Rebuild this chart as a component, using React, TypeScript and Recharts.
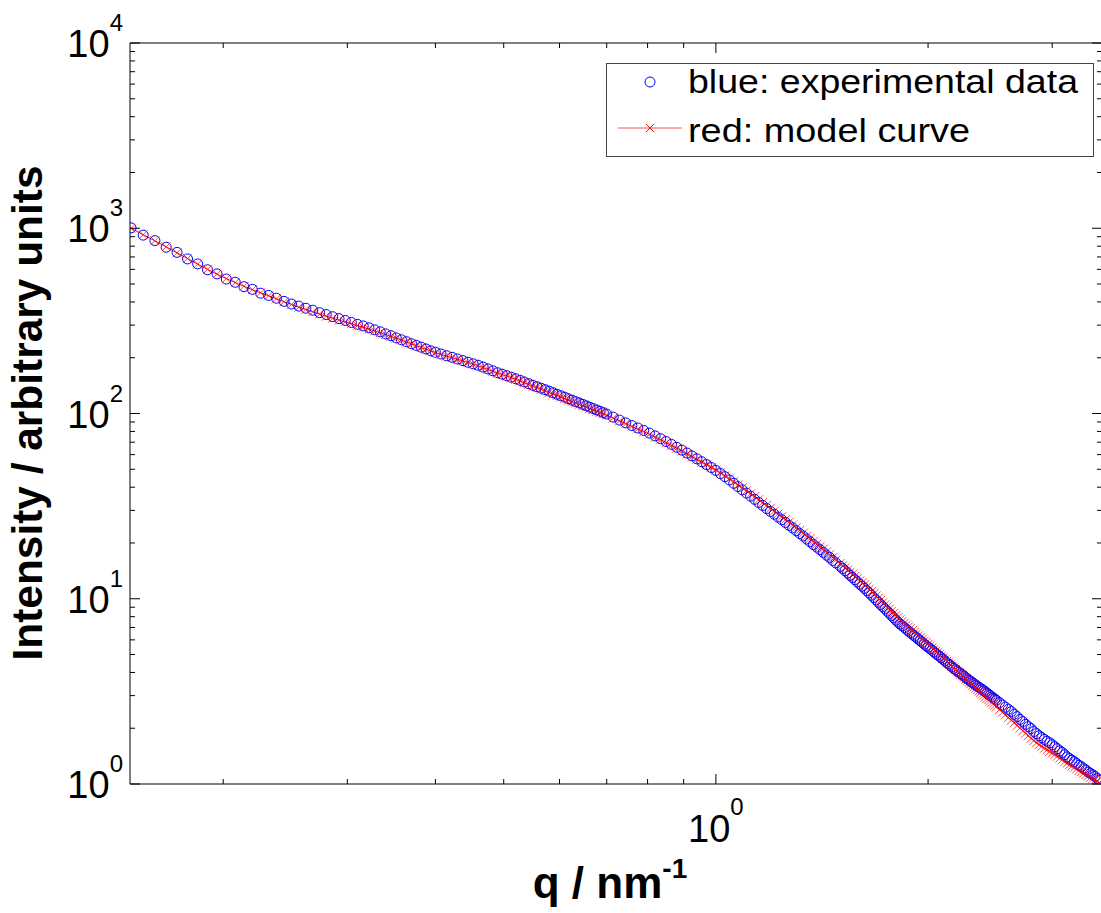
import { ComposedChart, Legend, Line, ReferenceLine, XAxis, YAxis } from "recharts";

// scattering vector q (nm^-1)
const q = [
  0.148, 0.154, 0.16, 0.166, 0.172, 0.178, 0.184, 0.19, 0.196, 0.202, 0.208, 0.214, 0.22, 0.226, 0.232,
  0.238, 0.244, 0.25, 0.256, 0.262, 0.268, 0.274, 0.28, 0.286, 0.292, 0.298, 0.304, 0.31, 0.316, 0.322,
  0.328, 0.334, 0.34, 0.346, 0.352, 0.358, 0.364, 0.37, 0.376, 0.382, 0.388, 0.394, 0.4,
  0.4075, 0.415, 0.4225, 0.43, 0.4375, 0.445, 0.4525, 0.46, 0.4675, 0.475,
  0.4825, 0.49, 0.4975, 0.505, 0.5125, 0.52, 0.5275, 0.535, 0.5425, 0.55,
  0.5575, 0.565, 0.5725, 0.58, 0.5875, 0.595, 0.6025, 0.61, 0.6175, 0.625,
  0.6325, 0.64, 0.6475, 0.655, 0.6625, 0.67, 0.6775, 0.685, 0.6925, 0.7,
  0.715, 0.73, 0.745, 0.76, 0.775, 0.79, 0.805, 0.82, 0.835, 0.85,
  0.865, 0.88, 0.895, 0.91, 0.925, 0.94, 0.955, 0.97, 0.985, 1.0,
  1.015, 1.03, 1.045, 1.06, 1.075, 1.09, 1.105, 1.12, 1.135, 1.15,
  1.165, 1.18, 1.195, 1.21, 1.225, 1.24, 1.255, 1.27, 1.285, 1.3,
  1.315, 1.33, 1.345, 1.36, 1.375, 1.39, 1.405, 1.42, 1.435, 1.45, 1.465, 1.48,
  1.5, 1.5125, 1.525, 1.5375, 1.55, 1.5625, 1.575, 1.5875,
  1.6, 1.6125, 1.625, 1.6375, 1.65, 1.6625, 1.675, 1.6875,
  1.7, 1.7125, 1.725, 1.7375, 1.75, 1.7625, 1.775, 1.7875,
  1.8, 1.8125, 1.825, 1.8375, 1.85, 1.8625, 1.875, 1.8875,
  1.9, 1.9125, 1.925, 1.9375, 1.95, 1.9625, 1.975, 1.9875,
  2.0, 2.0125, 2.025, 2.0375, 2.05, 2.0625, 2.075, 2.0875,
  2.1, 2.1125, 2.125, 2.1375, 2.15, 2.1625, 2.175, 2.1875,
  2.2, 2.2125, 2.225, 2.2375, 2.25, 2.2625, 2.275, 2.2875,
  2.3, 2.3125, 2.325, 2.3375, 2.35, 2.3625, 2.375, 2.3875,
  2.4, 2.4125, 2.425, 2.4375, 2.45, 2.4625, 2.475, 2.4875,
  2.5,
  2.525, 2.55, 2.575, 2.6, 2.625, 2.65, 2.675, 2.7, 2.725, 2.75, 2.775, 2.8,
  2.825, 2.85, 2.875, 2.9, 2.925, 2.95, 2.975, 3.0, 3.025, 3.05, 3.075, 3.1,
  3.125, 3.15, 3.175, 3.2, 3.225, 3.25, 3.275, 3.3, 3.325, 3.35, 3.375, 3.4,
  3.425, 3.45, 3.475, 3.5
];

// blue: experimental data
const experimental = [
  1005, 918, 858, 790, 741, 683, 642, 597, 567, 532, 511, 484, 468, 446, 434,
  419, 403, 390, 380, 370, 361, 350, 342, 333, 325, 318, 310, 303, 297, 290,
  283, 276, 269, 263, 256, 250, 244, 238, 233, 228, 223, 218, 214,
  209.5, 205, 201, 197, 193, 189, 185.5, 182, 178, 174,
  170, 166, 163, 160, 157, 154, 151, 148, 145, 142,
  139.5, 137, 134.5, 132, 129.5, 127, 124.8, 122.5, 120.2, 118,
  116, 114, 112, 110, 108.1, 106.3, 104.5, 102.8, 101, 99.3,
  95.6, 92.1, 89.0, 86.1, 83.5, 81.0, 78.3, 75.7, 73.1, 70.6,
  68.1, 65.7, 63.4, 61.2, 59.0, 56.9, 54.9, 53.0, 51.1, 49.3,
  47.4, 45.6, 43.8, 42.0, 40.3, 38.7, 37.2, 35.8, 34.4, 33.1,
  31.9, 30.7, 29.6, 28.6, 27.6, 26.7, 25.8, 24.9, 24.1, 23.3,
  22.5, 21.8, 21.0, 20.3, 19.6, 19.0, 18.4, 17.8, 17.2, 16.7, 16.1, 15.6,
  14.98, 14.57, 14.17, 13.78, 13.39, 13.03, 12.67, 12.33,
  11.99, 11.68, 11.38, 11.06, 10.75, 10.45, 10.15, 9.86,
  9.58, 9.31, 9.05, 8.81, 8.57, 8.34, 8.11, 7.89,
  7.67, 7.48, 7.3, 7.15, 7.0, 6.85, 6.7, 6.56,
  6.43, 6.3, 6.18, 6.05, 5.93, 5.81, 5.69, 5.58,
  5.48, 5.38, 5.28, 5.17, 5.07, 4.98, 4.89, 4.8,
  4.71, 4.62, 4.53, 4.45, 4.37, 4.29, 4.21, 4.14,
  4.07, 4.0, 3.94, 3.88, 3.82, 3.75, 3.69, 3.63,
  3.58, 3.52, 3.47, 3.42, 3.37, 3.32, 3.28, 3.23,
  3.19, 3.14, 3.09, 3.04, 3.0, 2.95, 2.91, 2.87,
  2.83,
  2.75, 2.67, 2.6, 2.53, 2.46, 2.38, 2.31, 2.23, 2.17, 2.1, 2.04, 1.99,
  1.92, 1.87, 1.82, 1.78, 1.74, 1.7, 1.67, 1.63, 1.59, 1.55, 1.51, 1.48,
  1.44, 1.4, 1.37, 1.345, 1.32, 1.29, 1.26, 1.24, 1.21, 1.19, 1.16, 1.14,
  1.12, 1.1, 1.07, 1.05
];

// red: model curve
const model = [
  1000, 923, 855, 794, 737, 686, 640, 600, 565, 535, 509, 486, 466, 448, 432,
  416, 401, 388, 375, 364, 354, 344, 335, 327, 319, 312, 305, 298, 292, 286,
  279, 273, 267, 261, 255, 249, 243, 238, 232, 227, 222, 218, 213,
  208.5, 204, 200, 196, 192.2, 188.5, 184.7, 181, 177, 173,
  169, 165, 162, 159, 156, 153, 149.7, 146.5, 143.5, 140.6,
  137.8, 135, 132.4, 129.9, 127.4, 125, 122.7, 120.4, 118.2, 116,
  114, 112, 110.1, 108.2, 106.4, 104.6, 102.9, 101.2, 99.5, 97.9,
  94.5, 91.2, 88.1, 85.2, 82.5, 79.8, 77.2, 74.6, 72.1, 69.6,
  67.3, 65.0, 62.8, 60.6, 58.5, 56.5, 54.7, 52.9, 51.2, 49.5,
  47.8, 46.1, 44.4, 42.8, 41.2, 39.7, 38.3, 36.9, 35.6, 34.3,
  33.1, 31.9, 30.8, 29.7, 28.7, 27.7, 26.8, 25.9, 25.0, 24.2,
  23.4, 22.6, 21.8, 21.1, 20.4, 19.7, 19.1, 18.5, 17.9, 17.3, 16.7, 16.2,
  15.5, 15.1, 14.7, 14.3, 13.9, 13.55, 13.2, 12.85,
  12.5, 12.2, 11.9, 11.58, 11.26, 10.95, 10.64, 10.35,
  10.06, 9.79, 9.53, 9.28, 9.03, 8.79, 8.56, 8.34,
  8.12, 7.91, 7.71, 7.54, 7.37, 7.2, 7.04, 6.88,
  6.73, 6.59, 6.45, 6.31, 6.17, 6.04, 5.91, 5.79,
  5.67, 5.55, 5.44, 5.32, 5.21, 5.1, 4.99, 4.89,
  4.79, 4.69, 4.59, 4.5, 4.41, 4.32, 4.23, 4.15,
  4.07, 3.99, 3.91, 3.83, 3.76, 3.68, 3.61, 3.54,
  3.48, 3.41, 3.35, 3.29, 3.23, 3.17, 3.12, 3.06,
  3.01, 2.95, 2.9, 2.85, 2.8, 2.75, 2.7, 2.65,
  2.61,
  2.52, 2.44, 2.36, 2.28, 2.21, 2.14, 2.07, 2.0, 1.94, 1.88, 1.82, 1.765,
  1.715, 1.67, 1.63, 1.595, 1.56, 1.53, 1.5, 1.47, 1.44, 1.41, 1.38, 1.35,
  1.32, 1.295, 1.27, 1.25, 1.23, 1.205, 1.185, 1.164, 1.144, 1.124, 1.105, 1.087,
  1.069, 1.051, 1.033, 1.016
];

const xTicks = [0.2, 0.3, 0.4, 0.5, 0.6, 0.7, 0.8, 0.9, 1, 2, 3];
const yTicks = [
  1, 2, 3, 4, 5, 6, 7, 8, 9,
  10, 20, 30, 40, 50, 60, 70, 80, 90,
  100, 200, 300, 400, 500, 600, 700, 800, 900,
  1000, 2000, 3000, 4000, 5000, 6000, 7000, 8000, 9000,
  10000
];

const rows = q.map((value, i) => ({ q: value, experimental: experimental[i], model: model[i] }));

const FONT = '"Liberation Sans", Arial, Helvetica, sans-serif';
const PLOT_LEFT = 130;
const PLOT_RIGHT = 1102;
const PLOT_TOP = 43;
const PLOT_BOTTOM = 784;

const exponent = (v: number) => Math.round(Math.log10(v));
const isDecade = (v: number) => Math.abs(Math.log10(v) - exponent(v)) < 1e-9;

function XTick(props: any) {
  const { x, payload } = props;
  const v = payload.value;
  const major = isDecade(v);
  const len = major ? 10 : 5;
  return (
    <g>
      <line x1={x} x2={x} y1={PLOT_BOTTOM} y2={PLOT_BOTTOM - len} stroke="#000" />
      <line x1={x} x2={x} y1={PLOT_TOP} y2={PLOT_TOP + len} stroke="#000" />
      {major && (
        <text x={x} y={PLOT_BOTTOM + 58} textAnchor="middle" fontFamily={FONT} fontSize={38} fill="#000">
          10
          <tspan dy={-27} fontSize={24}>
            {exponent(v)}
          </tspan>
        </text>
      )}
    </g>
  );
}

function YTick(props: any) {
  const { y, payload } = props;
  const v = payload.value;
  const major = isDecade(v);
  const len = major ? 10 : 5;
  return (
    <g>
      <line x1={PLOT_LEFT} x2={PLOT_LEFT + len} y1={y} y2={y} stroke="#000" />
      <line x1={PLOT_RIGHT - len} x2={PLOT_RIGHT} y1={y} y2={y} stroke="#000" />
      {major && (
        <text x={123} y={y + 14} textAnchor="end" fontFamily={FONT} fontSize={38} fill="#000">
          10
          <tspan dy={-26} fontSize={24}>
            {exponent(v)}
          </tspan>
        </text>
      )}
    </g>
  );
}

const cross = (cx: number, cy: number, s: number) =>
  `M${cx - s},${cy - s}L${cx + s},${cy + s}M${cx - s},${cy + s}L${cx + s},${cy - s}`;

const renderCircle = (p: any) => (
  <circle key={`e-${p.index}`} cx={p.cx} cy={p.cy} r={5} fill="none" stroke="#0000ff" strokeWidth={1} />
);

const renderCross = (p: any) => (
  <path key={`m-${p.index}`} d={cross(p.cx, p.cy, 4.5)} stroke="#ff0000" strokeOpacity={0.7} strokeWidth={1} fill="none" />
);

function LegendBox() {
  return (
    <svg width={488} height={94} style={{ display: "block" }}>
      <rect x={0.5} y={0.5} width={487} height={93} fill="#fff" stroke="#444" />
      <circle cx={44} cy={19} r={5} fill="none" stroke="#0000ff" />
      <text x={82} y={30} fontFamily={FONT} fontSize={34} textLength={390} lengthAdjust="spacingAndGlyphs">
        blue: experimental data
      </text>
      <line x1={12} x2={76} y1={65} y2={65} stroke="#ff0000" strokeOpacity={0.7} />
      <path d={cross(44, 65, 4)} stroke="#ff0000" fill="none" />
      <text x={82} y={79} fontFamily={FONT} fontSize={34} textLength={282} lengthAdjust="spacingAndGlyphs">
        red: model curve
      </text>
    </svg>
  );
}

export default function App() {
  return (
    <div style={{ position: "absolute", left: 0, top: 0, width: 1101, height: 913, overflow: "hidden", background: "#fff" }}>
      <ComposedChart width={1104} height={913} data={rows} margin={{ top: 43, right: 2, bottom: 69, left: 0 }}>
        <XAxis
          dataKey="q"
          type="number"
          scale="log"
          domain={[0.1475, 3.53]}
          allowDataOverflow
          ticks={xTicks}
          interval={0}
          tick={(p: any) => <XTick {...p} />}
          tickLine={false}
          tickSize={0}
          tickMargin={0}
          height={60}
          axisLine={{ stroke: "#000" }}
          label={() => (
            <text x={610} y={898} textAnchor="middle" fontFamily={FONT} fontWeight="bold" fontSize={44} fill="#000">
              q / nm
              <tspan dy={-20} fontSize={28}>
                -1
              </tspan>
            </text>
          )}
        />
        <YAxis
          type="number"
          scale="log"
          domain={[1, 10000]}
          allowDataOverflow
          ticks={yTicks}
          interval={0}
          tick={(p: any) => <YTick {...p} />}
          tickLine={false}
          tickSize={0}
          tickMargin={0}
          width={130}
          axisLine={{ stroke: "#000" }}
          label={() => (
            <text
              transform="translate(42,413) rotate(-90)"
              textAnchor="middle"
              fontFamily={FONT}
              fontWeight="bold"
              fontSize={42}
              fill="#000"
              textLength={495}
              lengthAdjust="spacingAndGlyphs"
            >
              Intensity / arbitrary units
            </text>
          )}
        />
        <ReferenceLine y={10000} stroke="#000" />
        <Line
          dataKey="experimental"
          stroke="none"
          dot={renderCircle}
          activeDot={false}
          isAnimationActive={false}
        />
        <Line
          dataKey="model"
          type="linear"
          stroke="#ff0000"
          strokeWidth={1}
          dot={renderCross}
          activeDot={false}
          isAnimationActive={false}
        />
        <Legend
          layout="vertical"
          align="center"
          verticalAlign="middle"
          wrapperStyle={{ left: 606, top: 63, width: 488, height: 94 }}
          content={() => <LegendBox />}
        />
      </ComposedChart>
    </div>
  );
}
